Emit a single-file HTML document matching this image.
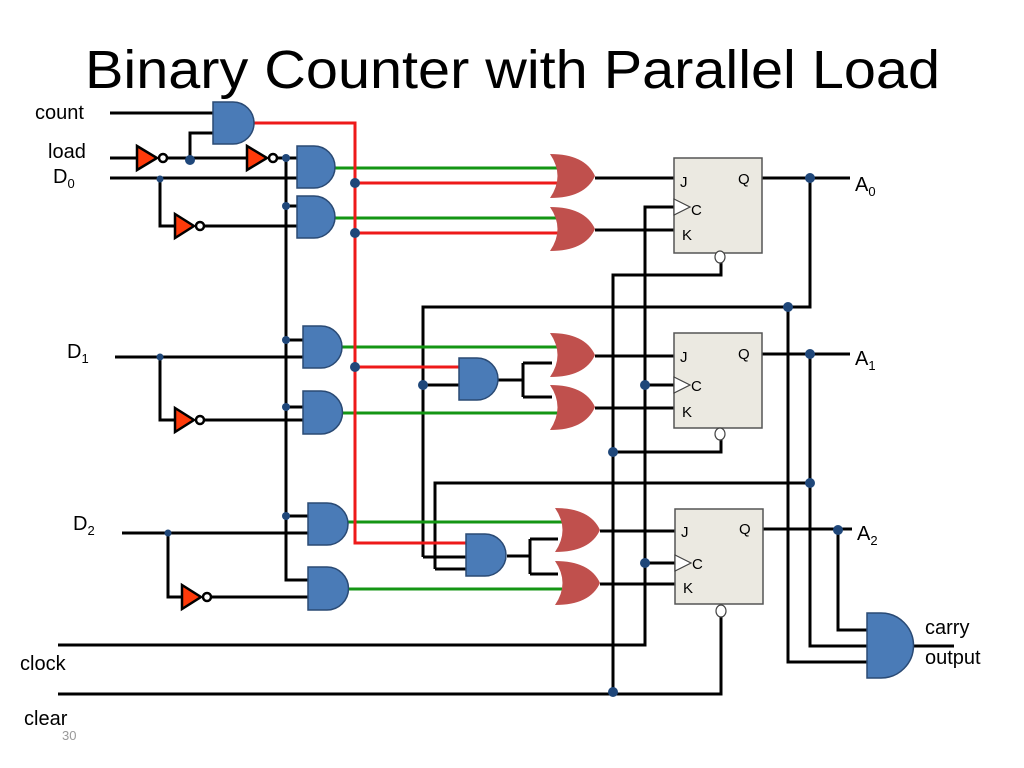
<!DOCTYPE html>
<html><head><meta charset="utf-8"><style>
html,body{margin:0;padding:0;background:#fff;width:1024px;height:768px;overflow:hidden}
svg{display:block}
text{font-family:"Liberation Sans",sans-serif;fill:#000}
</style></head><body>
<svg width="1024" height="768" viewBox="0 0 1024 768" xmlns="http://www.w3.org/2000/svg">
<text x="85" y="88" font-size="54" textLength="855" lengthAdjust="spacingAndGlyphs">Binary Counter with  Parallel Load</text>

<!-- black wires -->
<g stroke="#000" stroke-width="3" fill="none">
<path d="M110 113H213"/>
<path d="M190 160V133H213"/>
<path d="M110 158H137M163 158H250M273 158H297"/>
<path d="M110 178H297"/>
<path d="M160 178V226H175M200 226H297"/>
<path d="M286 158V580H308"/>
<path d="M286 206H297M286 340H303M286 407H303M286 516H308"/>
<path d="M115 357H303M160 357V420H175M201 420H303"/>
<path d="M122 533H308M168 533V597H182M208 597H308"/>
<!-- OR outputs to FFs -->
<path d="M595 178H675M595 230H675"/>
<path d="M595 356H675M595 408H675"/>
<path d="M600 531H675M600 584H675"/>
<!-- middle ANDs -->
<path d="M423 385H459M498 380H523M523 363V397M523 363H552M523 397H552"/>
<path d="M423 557H466M435 569H466M507 556H530M530 539V574M530 539H558M530 574H558"/>
<!-- feedback -->
<path d="M762 178H850M810 178V307H423V557"/>
<path d="M762 354H850M810 354V646H867"/>
<path d="M810 483H435V569"/>
<path d="M762 529H852M838 529V630H867"/>
<path d="M788 307V662H867"/>
<path d="M913 646H954"/>
<!-- clock -->
<path d="M58 645H645V207H675M645 385H675M645 563H675"/>
<!-- clear -->
<path d="M58 694H721V616"/>
<path d="M613 694V275H721V261M613 452H721V440"/>
</g>

<!-- green -->
<g stroke="#149614" stroke-width="3" fill="none">
<path d="M335 168H558M335 218H558M342 347H558M342 413H558M348 522H562M348 589H562"/>
</g>
<!-- red -->
<g stroke="#ee1a1a" stroke-width="3" fill="none">
<path d="M253 123H355V543H466"/>
<path d="M355 183H558M355 233H558M355 367H459"/>
</g>

<!-- AND gates -->
<g fill="#4a7bb7" stroke="#2a4a74" stroke-width="1.5">
<path d="M213 102h20a21 21 0 0 1 0 42H213Z"/>
<path d="M297 146h17a21 21 0 0 1 0 42H297Z"/>
<path d="M297 196h17a21 21 0 0 1 0 42H297Z"/>
<path d="M303 326h18a21 21 0 0 1 0 42H303Z"/>
<path d="M303 391h18a21.5 21.5 0 0 1 0 43H303Z"/>
<path d="M308 503h19a21 21 0 0 1 0 42H308Z"/>
<path d="M308 567h19a21.5 21.5 0 0 1 0 43H308Z"/>
<path d="M459 358h18a21 21 0 0 1 0 42H459Z"/>
<path d="M466 534h19a21 21 0 0 1 0 42H466Z"/>
<path d="M867 613h14a32.5 32.5 0 0 1 0 65H867Z"/>
</g>

<!-- OR gates -->
<g fill="#c0504d">
<path d="M550 154Q565 176 550 198Q585 198 595 176Q585 154 550 154Z"/>
<path d="M550 207Q565 229 550 251Q585 251 595 229Q585 207 550 207Z"/>
<path d="M550 333Q565 355 550 377Q585 377 595 355Q585 333 550 333Z"/>
<path d="M550 385Q565 407 550 430Q585 430 595 407Q585 385 550 385Z"/>
<path d="M555 508Q570 530 555 552Q590 552 600 530Q590 508 555 508Z"/>
<path d="M555 561Q570 583 555 605Q590 605 600 583Q590 561 555 561Z"/>
</g>

<!-- inverters -->
<g fill="#ff3a0a" stroke="#000" stroke-width="2.5">
<path d="M137 146L157 158L137 170Z"/>
<path d="M247 146L267 158L247 170Z"/>
<path d="M175 214L194 226L175 238Z"/>
<path d="M175 408L194 420L175 432Z"/>
<path d="M182 585L201 597L182 609Z"/>
</g>
<g fill="#fff" stroke="#000" stroke-width="2.5">
<circle cx="163" cy="158" r="4"/>
<circle cx="273" cy="158" r="4"/>
<circle cx="200" cy="226" r="4"/>
<circle cx="200" cy="420" r="4"/>
<circle cx="207" cy="597" r="4"/>
</g>

<!-- flip-flops -->
<g fill="#ebe9e1" stroke="#555" stroke-width="1.5">
<rect x="674" y="158" width="88" height="95"/>
<rect x="674" y="333" width="88" height="95"/>
<rect x="675" y="509" width="88" height="95"/>
</g>
<g fill="#fff" stroke="#444" stroke-width="1.2">
<path d="M674 199L690 207L674 215Z"/>
<path d="M674 377L690 385L674 393Z"/>
<path d="M675 555L691 563L675 571Z"/>
<ellipse cx="720" cy="257" rx="5" ry="6"/>
<ellipse cx="720" cy="434" rx="5" ry="6"/>
<ellipse cx="721" cy="611" rx="5" ry="6"/>
</g>
<g font-size="15">
<text x="680" y="187">J</text><text x="738" y="184">Q</text><text x="691" y="215">C</text><text x="682" y="240">K</text>
<text x="680" y="362">J</text><text x="738" y="359">Q</text><text x="691" y="391">C</text><text x="682" y="417">K</text>
<text x="681" y="537">J</text><text x="739" y="534">Q</text><text x="692" y="569">C</text><text x="683" y="593">K</text>
</g>

<!-- dots -->
<g fill="#1f477a">
<circle cx="190" cy="160" r="5"/>
<circle cx="286" cy="158" r="4"/>
<circle cx="160" cy="179" r="3.5"/>
<circle cx="286" cy="206" r="4"/>
<circle cx="355" cy="183" r="5"/>
<circle cx="355" cy="233" r="5"/>
<circle cx="286" cy="340" r="4"/>
<circle cx="286" cy="407" r="4"/>
<circle cx="286" cy="516" r="4"/>
<circle cx="160" cy="357" r="3.5"/>
<circle cx="168" cy="533" r="3.5"/>
<circle cx="355" cy="367" r="5"/>
<circle cx="423" cy="385" r="5"/>
<circle cx="810" cy="178" r="5"/>
<circle cx="788" cy="307" r="5"/>
<circle cx="810" cy="354" r="5"/>
<circle cx="645" cy="385" r="5"/>
<circle cx="613" cy="452" r="5"/>
<circle cx="810" cy="483" r="5"/>
<circle cx="838" cy="530" r="5"/>
<circle cx="645" cy="563" r="5"/>
<circle cx="613" cy="692" r="5"/>
</g>

<!-- labels -->
<g font-size="20">
<text x="35" y="119">count</text>
<text x="48" y="158">load</text>
<text x="53" y="183">D<tspan font-size="13" dy="5">0</tspan></text>
<text x="67" y="358">D<tspan font-size="13" dy="5">1</tspan></text>
<text x="73" y="530">D<tspan font-size="13" dy="5">2</tspan></text>
<text x="855" y="191">A<tspan font-size="13" dy="5">0</tspan></text>
<text x="855" y="365">A<tspan font-size="13" dy="5">1</tspan></text>
<text x="857" y="540">A<tspan font-size="13" dy="5">2</tspan></text>
<text x="925" y="634">carry</text>
<text x="925" y="664">output</text>
<text x="20" y="670">clock</text>
<text x="24" y="725">clear</text>
</g>
<text x="62" y="740" font-size="13" fill="#999" style="fill:#999">30</text>
</svg>
</body></html>
